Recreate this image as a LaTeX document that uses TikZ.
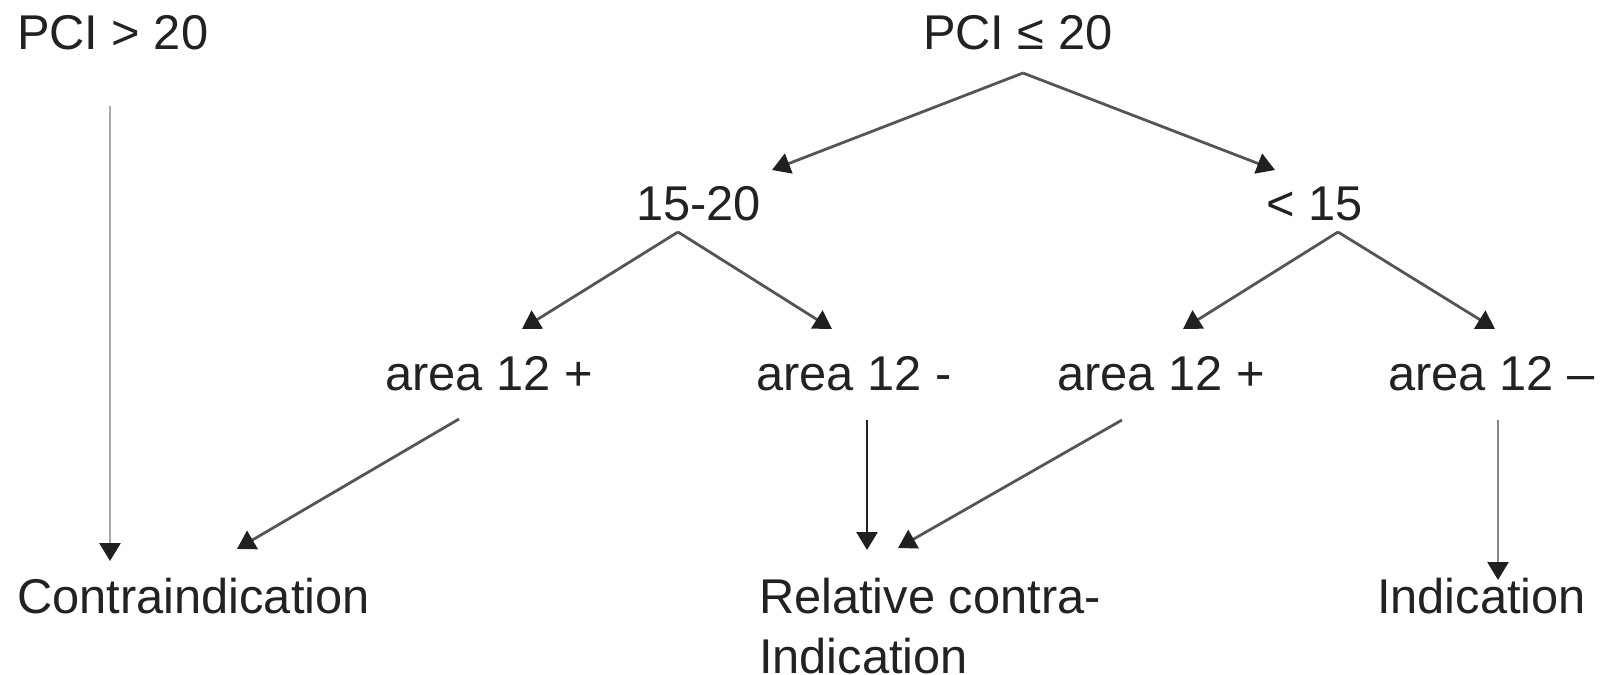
\documentclass[tikz,border=0pt]{standalone}
\usepackage{fontspec}
\setmainfont{Liberation Sans}
\usetikzlibrary{arrows.meta}
\definecolor{txt}{HTML}{222222}
\definecolor{lnA}{HTML}{555555}
\definecolor{lnL}{HTML}{A8A8A8}
\definecolor{lnR}{HTML}{888888}
\definecolor{lnM}{HTML}{202020}
\definecolor{tipc}{HTML}{202020}
\tikzset{
  lbl/.style={anchor=base west, inner sep=0pt, outer sep=0pt, text=txt,
    font=\fontsize{49}{60}\selectfont},
  arr/.style={line width=2.8bp, draw=lnA,
    -{Triangle[width=21bp,length=18bp,color=tipc,fill=tipc]}},
}
\begin{document}
\begin{tikzpicture}[x=1bp,y=-1bp]
\useasboundingbox (0,0) rectangle (1611,675);
% texts
\node[lbl] (pciA) at (17,50) {PCI > 20};
\node[lbl] (pciB) at (923,50) {PCI ≤ 20};
\node[lbl] (r1520) at (636,220) {15-20};
\node[lbl] (rlt15) at (1266,220) {< 15};
\node[lbl] (aA) at (385,390) {area 12 +};
\node[lbl] (aB) at (756,390) {area 12 -};
\node[lbl] (aC) at (1057,390) {area 12 +};
\node[lbl] (aD) at (1388,390) {area 12 –};
\node[lbl] (contra) at (17,613) {Contraindication};
\node[lbl] (rel1) at (759,613) {Relative contra-};
\node[lbl] (rel2) at (759,673) {Indication};
\node[lbl] (indic) at (1377,613) {Indication};
% connector end points
\coordinate (pciA-out) at (110,106);
\coordinate (contra-in1) at (110,561);
\coordinate (pciB-out) at (1023,73);
\coordinate (r1520-in) at (772,170);
\coordinate (rlt15-in) at (1275,170);
\coordinate (r1520-out) at (678,232);
\coordinate (aA-in) at (522,329);
\coordinate (aB-in) at (832,329);
\coordinate (rlt15-out) at (1338,232);
\coordinate (aC-in) at (1183,329);
\coordinate (aD-in) at (1495,329);
\coordinate (aA-out) at (459,419);
\coordinate (contra-in2) at (237,549);
\coordinate (aB-out) at (867,420);
\coordinate (rel-in1) at (867,550);
\coordinate (aC-out) at (1122,420);
\coordinate (rel-in2) at (898,548);
\coordinate (aD-out) at (1498,420);
\coordinate (indic-in) at (1498,580);
% connectors
\draw[arr, draw=lnL] (pciA-out) -- (contra-in1);
\draw[arr] (pciB-out) -- (r1520-in);
\draw[arr] (pciB-out) -- (rlt15-in);
\draw[arr] (r1520-out) -- (aA-in);
\draw[arr] (r1520-out) -- (aB-in);
\draw[arr] (rlt15-out) -- (aC-in);
\draw[arr] (rlt15-out) -- (aD-in);
\draw[arr] (aA-out) -- (contra-in2);
\draw[arr, draw=lnM] (aB-out) -- (rel-in1);
\draw[arr] (aC-out) -- (rel-in2);
\draw[arr, draw=lnR] (aD-out) -- (indic-in);
\end{tikzpicture}
\end{document}
